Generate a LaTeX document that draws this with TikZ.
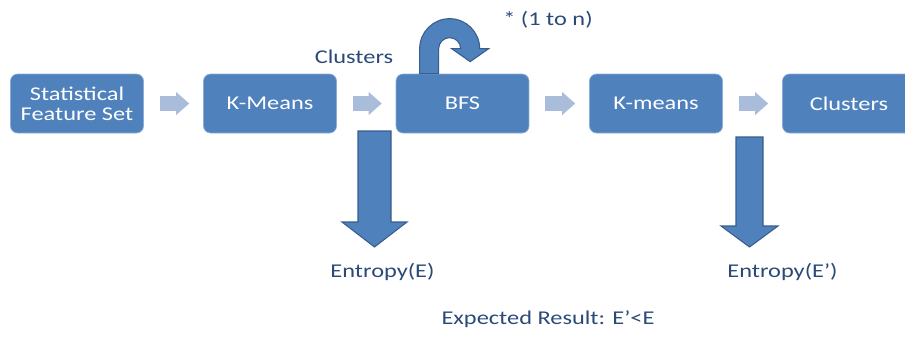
\documentclass[tikz,border=0pt]{standalone}
\usepackage{fontspec}
\setmainfont{Carlito}[FakeStretch=1.25]
\usetikzlibrary{arrows.meta,calc}
\definecolor{boxblue}{HTML}{4F81BD}
\definecolor{boxline}{HTML}{385D8A}
\definecolor{flowgray}{HTML}{A9BCD9}
\definecolor{labelblue}{HTML}{2B4A78}

\begin{document}
\begin{tikzpicture}[x=0.02cm,y=0.02cm,
   font=\fontsize{11.1}{11.4}\selectfont,
   box/.style={fill=boxblue,draw=boxblue!65!white,rounded corners=0.14cm,align=center,
     minimum width=2.66cm,minimum height=1.18cm,text=white,inner sep=0pt},
   lbl/.style={text=labelblue,inner sep=0pt},
   flow/.style={draw=flowgray,line width=0.3cm,shorten <=0.32cm,shorten >=0.28cm,
     -{Triangle[length=0.26cm,width=0.46cm,line width=0pt]}},
   fat/.style={fill=boxblue,draw=boxline,line width=0.6pt,line join=miter}]
  \useasboundingbox (0,0) rectangle (905,-336);
  \clip (0,0) rectangle (905,-336);
  % processing chain
  \node[box] (fs)  at (77,-103.5)  {Statistical\\Feature Set};
  \node[box] (km1) at (270,-103.5) {K-Means};
  \node[box] (bfs) at (462.5,-103.5) {BFS};
  \node[box] (km2) at (656,-103.5) {K-means};
  \node[box] (cl)  at (849,-103.5) {Clusters};
  \draw[flow] (fs) -- (km1);
  \draw[flow] (km1) -- (bfs);
  \draw[flow] (bfs) -- (km2);
  \draw[flow] (km2) -- (cl);
  % labels
  \node[lbl] (clu)  at (354,-57)    {Clusters};
  \node[lbl] (rep)  at (548,-20)    {* (1 to n)};
  \node[lbl] (ent1) at (382.5,-272) {Entropy(E)};
  \node[lbl] (ent2) at (782.5,-272) {Entropy(E’)};
  \node[lbl] (res)  at (548,-319)   {Expected Result: E’<E};
  % repeat loop on BFS
  \draw[fat] ($(bfs.north west)+(24,0)$) -- ++(0,25) arc (180:0:30) -- ++(9,0)
     -- ++(-18.5,-13) -- ++(-18.5,13) -- ++(9,0) arc (0:180:11) -- ++(0,-25) -- cycle;
  % entropy arrows
  \coordinate (e1) at (374.5,-131);
  \coordinate (e2) at (749.5,-137);
  \draw[fat] (e1) ++(-16.5,0) -- ++(0,-91) -- ++(-16,0) -- ++(32.5,-25)
     -- ++(32.5,25) -- ++(-16,0) -- ++(0,91) -- cycle;
  \draw[fat] (e2) ++(-13.5,0) -- ++(0,-89) -- ++(-15,0) -- ++(28.5,-21)
     -- ++(28.5,21) -- ++(-15,0) -- ++(0,89) -- cycle;
\end{tikzpicture}
\end{document}
